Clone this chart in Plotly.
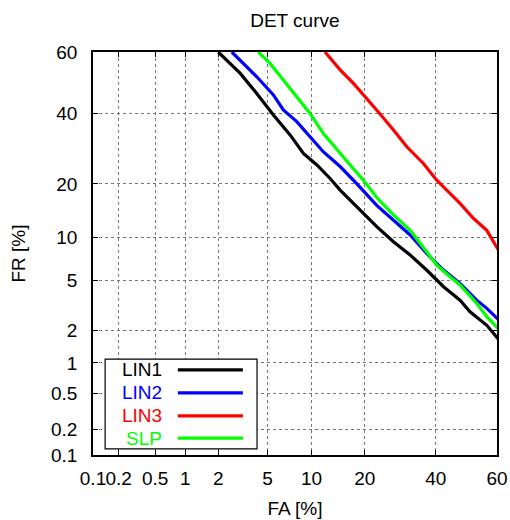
from statistics import NormalDist
import plotly.graph_objects as go

nd = NormalDist()
def probit(pct):
    return [nd.inv_cdf(v / 100.0) for v in pct]

tick_values = [0.1, 0.2, 0.5, 1, 2, 5, 10, 20, 40, 60]
tick_labels = ["0.1", "0.2", "0.5", "1", "2", "5", "10", "20", "40", "60"]
axis_min, axis_max = 0.1, 60

lin1_fa = [2.0, 2.52, 3.05, 4.14, 5.51, 7.23, 8.87, 10.8, 12.97, 14.8, 17.5, 20.5, 22.9, 27.3, 32.1, 37.1, 42.5, 47.9, 51.2, 56.7, 60.5]
lin1_fr = [60.0, 56.3, 53.1, 46.4, 39.4, 33.2, 27.8, 24.7, 21.3, 18.6, 15.8, 13.3, 11.6, 9.33, 7.62, 5.99, 4.51, 3.55, 2.86, 2.2, 1.65]

lin2_fa = [2.61, 3.05, 4.14, 5.51, 6.49, 8.02, 9.78, 11.8, 14.8, 18.2, 22.9, 27.3, 32.1, 37.1, 42.5, 47.9, 53.4, 56.7, 60.5]
lin2_fr = [60.0, 57.4, 51.9, 45.9, 41.0, 37.3, 32.6, 28.3, 24.3, 20.1, 15.4, 12.7, 10.3, 7.82, 5.99, 4.78, 3.55, 3.05, 2.45]

lin3_fa = [12.1, 14.8, 17.5, 20.5, 23.8, 27.3, 31.1, 36.1, 40.3, 44.6, 47.9, 52.3, 56.7, 60.5]
lin3_fr = [60.0, 54.2, 49.7, 44.8, 39.6, 34.7, 29.7, 25.1, 20.9, 17.9, 15.8, 13.0, 11.0, 8.2]

slp_fa = [4.25, 5.21, 6.49, 8.02, 9.78, 11.8, 14.2, 16.8, 19.7, 22.9, 27.3, 32.1, 37.1, 40.3, 44.6, 47.9, 53.4, 56.7, 60.5]
slp_fr = [60.0, 56.3, 50.8, 45.3, 39.9, 33.7, 28.8, 24.7, 20.9, 17.0, 13.6, 11.0, 8.02, 6.5, 5.36, 4.65, 3.35, 2.60, 2.05]

series = [
    ("LIN1", lin1_fa, lin1_fr, "#000000"),
    ("LIN2", lin2_fa, lin2_fr, "#0000ff"),
    ("LIN3", lin3_fa, lin3_fr, "#ff0000"),
    ("SLP", slp_fa, slp_fr, "#00ff00"),
]

FONT = "Liberation Sans, Arial, sans-serif"
FS = 19
fig = go.Figure()
for name, fa, fr, col in series:
    fig.add_trace(go.Scatter(x=probit(fa), y=probit(fr), mode="lines", name=name,
                             line=dict(color=col, width=3.2), showlegend=False))

axis_common = dict(
    tickmode="array", tickvals=probit(tick_values), ticktext=tick_labels,
    showgrid=True, gridcolor="#777777", griddash="dot", gridwidth=1,
    showline=True, linecolor="black", linewidth=1.5, mirror="allticks",
    ticks="inside", ticklen=5, tickcolor="black", zeroline=False, automargin=False,
    tickangle=0, tickfont=dict(size=FS, color="black", family=FONT),
)
fig.update_xaxes(range=probit([axis_min, axis_max]),
                 title=dict(text="FA [%]", font=dict(size=FS, color="black", family=FONT), standoff=14),
                 ticklabelstandoff=5, **axis_common)
fig.update_yaxes(range=probit([axis_min, axis_max]),
                 title=dict(text="FR [%]", font=dict(size=FS, color="black", family=FONT), standoff=20),
                 ticklabelstandoff=10, **axis_common)

# custom gnuplot-style legend (text left, sample right)
shapes = [dict(type="rect", xref="paper", yref="paper", x0=0.030, x1=0.406, y0=0.015, y1=0.238,
               line=dict(color="black", width=1.2), fillcolor="white", layer="above")]
annotations = []
row_y = [0.211, 0.154, 0.097, 0.042]
for (name, fa, fr, col), ry in zip(series, row_y):
    shapes.append(dict(type="line", xref="paper", yref="paper", x0=0.210, x1=0.371, y0=ry, y1=ry,
                       line=dict(color=col, width=3.2), layer="above"))
    annotations.append(dict(xref="paper", yref="paper", x=0.175, y=ry, text=name, showarrow=False,
                            xanchor="right", yanchor="middle",
                            font=dict(size=FS, color=col, family=FONT)))

fig.update_layout(
    width=510, height=520,
    margin=dict(l=93, r=13, t=52, b=65),
    paper_bgcolor="white", plot_bgcolor="white",
    title=dict(text="DET curve", x=0.5782, xanchor="center", y=0.96, yanchor="middle",
               font=dict(size=FS, color="black", family=FONT)),
    font=dict(family=FONT, color="black"),
    shapes=shapes, annotations=annotations,
)
fig.write_html("out.html")
